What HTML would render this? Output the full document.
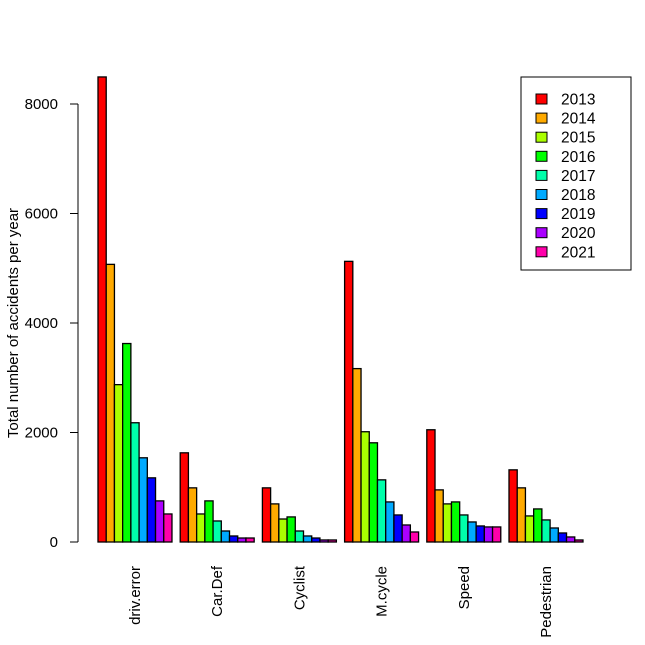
<!DOCTYPE html>
<html><head><meta charset="utf-8"><style>
body{margin:0;background:#fff}
svg{display:block;font-family:"Liberation Sans",Arial,sans-serif}
</style></head><body>
<svg id="chart" width="645" height="645" viewBox="0 0 645 645"></svg>
<script>
const categories=["driv.error","Car.Def","Cyclist","M.cycle","Speed","Pedestrian"];
const years=["2013","2014","2015","2016","2017","2018","2019","2020","2021"];
const colors=["#FF0000","#FFAA00","#AAFF00","#00FF00","#00FFAA","#00AAFF","#0000FF","#AA00FF","#FF00AA"];
const valsDriv=[8494,5071,2874,3625,2178,1538,1172,751,512];
const valsCar=[1629,989,512,751,384,201,110,73,73];
const valsCyc=[989,696,420,458,201,110,73,37,37];
const valsMcy=[5126,3167,2014,1812,1135,732,494,311,183];
const valsSpd=[2050,952,696,732,494,366,293,275,275];
const valsPed=[1318,989,476,604,403,256,165,92,37];
const series=[valsDriv,valsCar,valsCyc,valsMcy,valsSpd,valsPed];
const yTicks=[0,2000,4000,6000,8000];

const NS="http://www.w3.org/2000/svg";
const svg=document.getElementById('chart');
function el(t,a,txt){const e=document.createElementNS(NS,t);for(const k in a)e.setAttribute(k,a[k]);if(txt!==undefined)e.textContent=txt;svg.appendChild(e);return e;}
const y0=542, pxPer=(542-104)/8000;
const yS=v=>y0-v*pxPer;
const bw=8.22, x0=98-bw;
const xS=u=>x0+u*bw;

series.forEach((vals,g)=>{
  vals.forEach((v,i)=>{
    const u=g*10+1+i;
    const r=el('rect',{x:xS(u),y:yS(v),width:bw,height:y0-yS(v),fill:colors[i],stroke:'#000','stroke-width':1.3});
    
    
  });
  const cx=xS(g*10+1+4.5);
  const t=el('text',{x:0,y:0,transform:`translate(${cx+5},566) rotate(-90)`,'text-anchor':'end','font-size':15},categories[g]);
  
  
});
const ax=el('line',{x1:78,x2:78,y1:yS(0),y2:yS(8000),stroke:'#000'});


yTicks.forEach(v=>{
  el('line',{x1:70,x2:78,y1:yS(v),y2:yS(v),stroke:'#000'});
  const t=el('text',{x:58,y:yS(v)+5,'text-anchor':'end','font-size':15},String(v));
  
  
});
const yt=el('text',{x:0,y:0,transform:'translate(18,323) rotate(-90)','text-anchor':'middle','font-size':15},'Total number of accidents per year');


const lg=el('rect',{x:521,y:77,width:110,height:193,fill:'#fff',stroke:'#000'});


years.forEach((yr,i)=>{
  const yy=99+i*19.1;
  const s=el('rect',{x:536,y:yy-5,width:11,height:10,fill:colors[i],stroke:'#000'});
  
  
  const t=el('text',{x:561,y:yy+5.5,'font-size':15.5},yr);
  
  
});
</script>
</body></html>
